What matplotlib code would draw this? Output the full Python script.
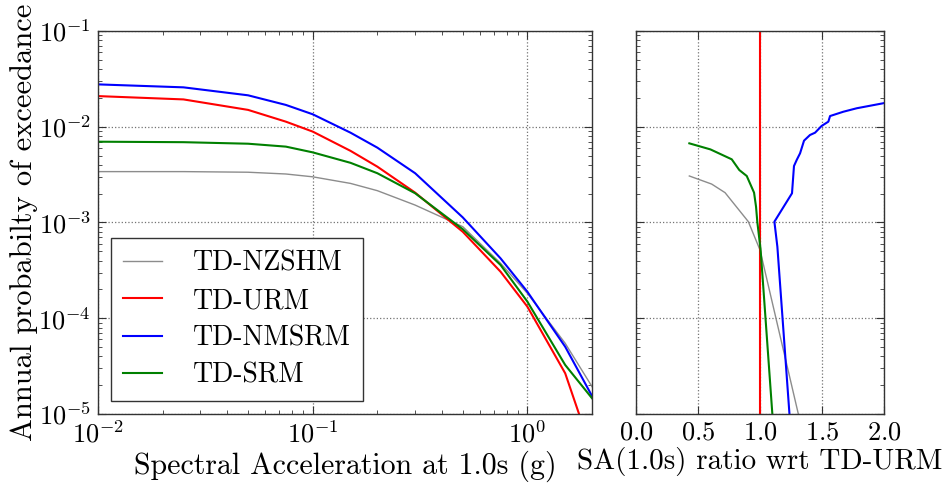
import matplotlib
matplotlib.use("Agg")
import matplotlib.pyplot as plt
from matplotlib.ticker import MultipleLocator, NullFormatter

plt.rcParams['font.family'] = ['cmr10', 'DejaVu Serif']
plt.rcParams['mathtext.fontset'] = 'cm'
plt.rcParams['axes.formatter.use_mathtext'] = True
plt.rcParams['axes.unicode_minus'] = False

# ---- data: hazard curves ----
sa = [0.01, 0.025, 0.05, 0.075, 0.1, 0.15, 0.2, 0.3, 0.5, 0.75, 1.0, 1.5, 2.0]
nzshm = [0.0034, 0.0034, 0.00335, 0.00321, 0.0030, 0.00256, 0.00215, 0.00152,
         0.000904, 0.000375, 0.000182, 5.47e-5, 1.93e-5]
urm = [0.0209, 0.0193, 0.0150, 0.0113, 0.0089, 0.0056, 0.00383, 0.00205,
       0.0008, 0.000306, 0.000132, 2.66e-5, 4.0e-6]
nmsrm = [0.0277, 0.0258, 0.0213, 0.0169, 0.0135, 0.00867, 0.00605, 0.00327,
         0.00113, 0.000422, 0.000189, 5.04e-5, 1.54e-5]
srm = [0.00698, 0.0069, 0.00665, 0.0062, 0.0054, 0.0042, 0.00327, 0.00202,
       0.00085, 0.00036, 0.000149, 3.25e-5, 1.46e-5]

# ---- data: SA ratio wrt TD-URM (ratio, probability) ----
ratio_nzshm = [0.43, 0.61, 0.718, 0.906, 1.0, 1.309]
prob_nzshm = [0.00306, 0.00252, 0.00205, 0.00102, 0.000516, 1.0e-5]
ratio_urm = [1.0, 1.0]
prob_urm = [0.2, 5.0e-6]
ratio_nmsrm = [1.994, 1.78, 1.672, 1.565, 1.551, 1.497, 1.444, 1.403, 1.355,
               1.323, 1.296, 1.274, 1.258, 1.116, 1.14, 1.237]
prob_nmsrm = [0.0176, 0.0156, 0.01435, 0.01294, 0.0113, 0.0102, 0.00867,
              0.0082, 0.00716, 0.00528, 0.0045, 0.00389, 0.00202, 0.00102,
              0.000558, 1.02e-5]
ratio_srm = [0.43, 0.60, 0.772, 0.833, 0.893, 0.952, 0.968, 0.978, 1.005, 1.099]
prob_srm = [0.00671, 0.0058, 0.00457, 0.00353, 0.00306, 0.00205, 0.00146,
            0.00102, 0.000516, 1.02e-5]

labels = ['TD-NZSHM', 'TD-URM', 'TD-NMSRM', 'TD-SRM']
colors = ['0.55', 'red', 'blue', 'green']
widths = [1.0, 1.5, 1.5, 1.5]

fig = plt.figure(figsize=(9.48, 4.83), dpi=100)
ax1 = fig.add_axes([0.1034, 0.1429, 0.5211, 0.7929])
ax2 = fig.add_axes([0.6709, 0.1429, 0.2616, 0.7929])

for y, lab, c, w in zip([nzshm, urm, nmsrm, srm], labels, colors, widths):
    ax1.loglog(sa, y, color=c, lw=w, label=lab)

for r, p, c, w in zip([ratio_nzshm, ratio_urm, ratio_nmsrm, ratio_srm],
                      [prob_nzshm, prob_urm, prob_nmsrm, prob_srm], colors, widths):
    ax2.semilogy(r, p, color=c, lw=w)

ax1.set_xlim(0.01, 2.0)
ax1.set_ylim(1e-5, 1e-1)
ax2.set_xlim(0.0, 2.0)
ax2.set_ylim(1e-5, 1e-1)
ax2.xaxis.set_major_locator(MultipleLocator(0.5))
ax2.yaxis.set_major_formatter(NullFormatter())
ax2.yaxis.set_minor_formatter(NullFormatter())

for ax in (ax1, ax2):
    ax.grid(True, which='major', color='0.45', ls=':', lw=0.9)
    ax.tick_params(which='both', direction='in', top=True, right=True,
                   labelsize=19, colors='0.2', labelcolor='k')
    ax.tick_params(which='major', length=6, width=0.8, pad=5)
    ax.tick_params(which='minor', length=3, width=0.6)
    for s in ax.spines.values():
        s.set_color('0.2')
        s.set_linewidth(1.0)
    ax.set_axisbelow(True)

ax1.set_xlabel('Spectral Acceleration at 1.0s (g)', fontsize=21.5, labelpad=2)
ax1.set_ylabel('Annual probabilty of exceedance', fontsize=22, labelpad=0)
ax2.set_xlabel('SA(1.0s) ratio wrt TD-URM', fontsize=21, labelpad=2)

leg = ax1.legend(loc='lower left', fontsize=20, fancybox=False, framealpha=1,
                 edgecolor='0.2', handlelength=1.4, handletextpad=1.1,
                 borderpad=0.45, labelspacing=0.4, borderaxespad=0.45)
leg.get_frame().set_linewidth(1.0)

fig.savefig('out.png', dpi=100, facecolor='white')
